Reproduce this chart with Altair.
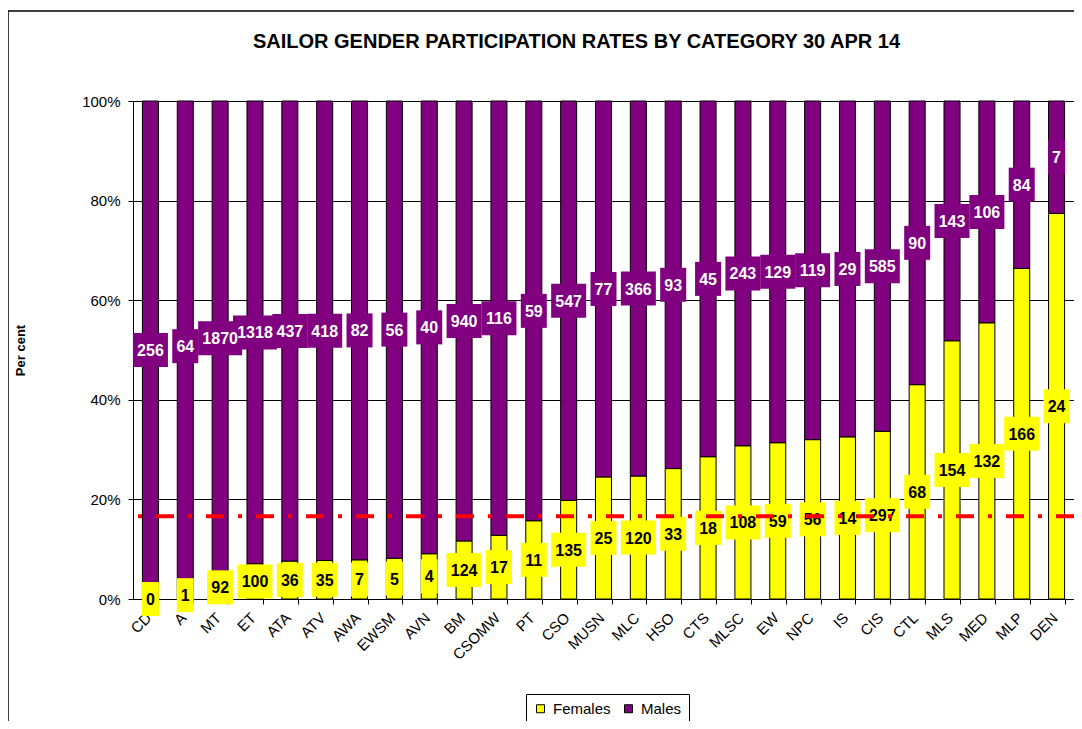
import altair as alt
import pandas as pd

categories = ["CD", "A", "MT", "ET", "ATA", "ATV", "AWA", "EWSM", "AVN", "BM", "CSOMW", "PT",
              "CSO", "MUSN", "MLC", "HSO", "CTS", "MLSC", "EW", "NPC", "IS", "CIS", "CTL",
              "MLS", "MED", "MLP", "DEN"]
females = [0, 1, 92, 100, 36, 35, 7, 5, 4, 124, 17, 11, 135, 25, 120, 33, 18, 108, 59, 56,
           14, 297, 68, 154, 132, 166, 24]
males = [256, 64, 1870, 1318, 437, 418, 82, 56, 40, 940, 116, 59, 547, 77, 366, 93, 45, 243,
         129, 119, 29, 585, 90, 143, 106, 84, 7]
target_rate = [0.166]

rows = []
for c, f, m in zip(categories, females, males):
    rows.append({"category": c, "gender": "Females", "count": f})
    rows.append({"category": c, "gender": "Males", "count": m})
df = pd.DataFrame(rows)

FONT = "Liberation Sans"
W, H = 941, 498

xenc = alt.X("category:N", sort=categories, title=None,
             scale=alt.Scale(paddingInner=0.54, paddingOuter=0.27),
             axis=alt.Axis(labelAngle=-45, labelFontSize=15, labelFont=FONT, labelColor="black",
                           tickBand="extent", tickColor="black", tickSize=5,
                           domainColor="black", labelPadding=6, labelOffset=-7, grid=False))

base = alt.Chart(df)

bars = base.mark_bar(stroke="black", strokeWidth=1).encode(
    x=xenc,
    y=alt.Y("count:Q", stack="normalize", title="Per cent",
            scale=alt.Scale(domain=[0, 1], nice=False),
            axis=alt.Axis(format="%", values=[0, 0.2, 0.4, 0.6, 0.8, 1.0], labelFontSize=15,
                          labelFont=FONT, labelColor="black", tickColor="black", tickSize=5,
                          labelPadding=8,
                          domainColor="black", gridColor="black", gridWidth=1, grid=True,
                          titleFont=FONT, titleFontSize=13, titleFontWeight="bold",
                          titleColor="black", titleX=-113, titleY=249, titleAngle=270,
                          titleAlign="center", titleBaseline="middle")),
    color=alt.Color("gender:N",
                    scale=alt.Scale(domain=["Females", "Males"], range=["#FFFF00", "#800080"]),
                    legend=alt.Legend(title=None, orient="none", legendX=393, legendY=593,
                                      direction="horizontal", symbolType="square",
                                      symbolSize=64, symbolStrokeColor="black",
                                      symbolStrokeWidth=1, labelFontSize=15, labelFont=FONT,
                                      labelColor="black", strokeColor="black", fillColor="white",
                                      padding=7, columnPadding=10, labelOffset=5,
                                      symbolOpacity=1)),
    order=alt.Order("gender:N", sort="ascending"),
)

label_base = base.transform_stack(
    stack="count", groupby=["category"], as_=["y0", "y1"], offset="normalize",
    sort=[alt.SortField("gender", order="ascending")]
).transform_calculate(
    mid="(datum.y0 + datum.y1) / 2",
    label="'' + datum.count",
).transform_calculate(
    half="(9 * length(datum.label) + 8) / 34",
).transform_calculate(
    box="'M' + (-datum.half) + ',-1H' + datum.half + 'V1H' + (-datum.half) + 'Z'",
)

boxes = label_base.mark_point(filled=True, opacity=1, strokeWidth=0, size=1156).encode(
    x=alt.X("category:N", sort=categories),
    y=alt.Y("mid:Q"),
    shape=alt.Shape("box:N", scale=None),
    fill=alt.condition(alt.datum.gender == "Females", alt.value("#FFFF00"), alt.value("#800080")),
)

texts = label_base.mark_text(font=FONT, fontSize=16, fontWeight="bold", baseline="middle",
                             align="center", dy=1).encode(
    x=alt.X("category:N", sort=categories),
    y=alt.Y("mid:Q"),
    text="label:N",
    color=alt.condition(alt.datum.gender == "Females", alt.value("black"), alt.value("white")),
)

line = alt.Chart(pd.DataFrame({"rate": target_rate})).mark_rule(
    color="#FF0000", strokeWidth=4, strokeDash=[18, 14, 4, 14]
).encode(y="rate:Q")

frame = alt.Chart(alt.Data(values=[{}])).mark_rect(
    fill=None, stroke="black", strokeWidth=1.5, clip=False
).encode(x=alt.value(-125), x2=alt.value(1000), y=alt.value(-90), y2=alt.value(700))

chart = alt.layer(bars, boxes, texts, line, frame).properties(
    width=W, height=H,
    title=alt.TitleParams("SAILOR GENDER PARTICIPATION RATES BY CATEGORY 30 APR 14",
                          font=FONT, fontSize=20, fontWeight="bold", color="black",
                          anchor="middle", offset=-42, dx=-27),
    autosize=alt.AutoSizeParams(type="none"),
    padding={"left": 125, "top": 93, "right": 0, "bottom": 122},
).configure_view(
    fill="#C0C0C0", stroke="#808080", strokeWidth=1
).configure(background="white")

chart.save("out.html", embed_options={"renderer": "svg", "actions": False})
